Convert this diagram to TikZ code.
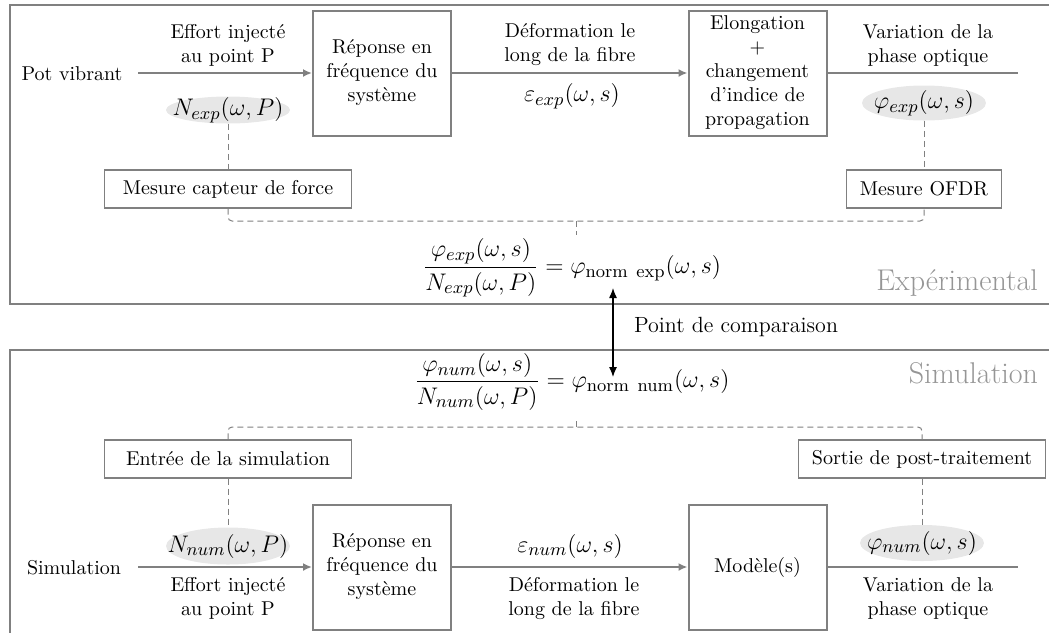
\documentclass[tikz,border=0pt]{standalone}
\usepackage{amsmath,amssymb}
\usepackage{xcolor}
\definecolor{framegray}{RGB}{128,128,128}
\definecolor{ovalfill}{RGB}{231,231,231}
\definecolor{titlegray}{RGB}{150,150,150}
\usepackage{tikz}
\usetikzlibrary{positioning,arrows.meta,shapes.geometric}

\begin{document}
\begin{tikzpicture}[x=0.5pt,y=-0.5pt,
      block/.style={rectangle,draw=framegray,line width=1pt,minimum width=69pt,minimum height=62.5pt,align=center,inner sep=2pt,font=\fontsize{10}{12}\selectfont},
      meas/.style={rectangle,draw=framegray,line width=0.6pt,minimum height=19pt,inner sep=3pt,font=\fontsize{10}{12}\selectfont},
      oval/.style={ellipse,fill=ovalfill,inner sep=0pt,minimum width=62pt},
      lbl/.style={align=center,font=\fontsize{10}{12}\selectfont},
      eq/.style={font=\fontsize{13}{15}\selectfont},
      flow/.style={-{Latex[length=4.5pt,width=4pt]},draw=framegray,line width=0.9pt},
      flowend/.style={draw=framegray,line width=0.9pt},
      link/.style={draw=framegray,line width=0.5pt,dash pattern=on 3pt off 2pt,rounded corners=2pt},
      zone/.style={draw=framegray,line width=0.7pt},
      zonetitle/.style={text=titlegray,font=\fontsize{15}{18}\selectfont}]
    \useasboundingbox (0,0) rectangle (1049,633);
    % frames
    \draw[zone] (1049,5) -- (10,5) -- (10,304) -- (1049,304);
    \draw[zone] (1049,350) -- (10,350) -- (10,633);
    % experimental chain
    \node[lbl] (pot) at (72,74) {Pot vibrant};
    \coordinate (potout) at (138,73);
    \node[block] (repexp) at (382,73) {Réponse en\\fréquence du\\système};
    \node[block] (elong) at (757.5,73) {Elongation\\+\\changement\\d'indice de\\propagation};
    \coordinate (phaseexp) at (1018,73);
    \draw[flow] (potout) -- (repexp.west);
    \draw[flow] (repexp.east) -- (elong.west);
    \draw[flowend] (elong.east) -- (phaseexp);
    \node[lbl] (effexp) at (228,45) {Effort injecté\\au point P};
    \node[lbl] (defexp) at (570,45) {Déformation le\\long de la fibre};
    \node[lbl] (varexp) at (928,45) {Variation de la\\phase optique};
    \node[eq] (epsexp) at (572,96) {$\varepsilon_{exp}(\omega,s)$};
    \node[oval,minimum height=13.5pt,label={[eq]center:$N_{exp}(\omega,P)$}] (nexp) at (228,110) {};
    \node[oval,minimum height=17.5pt,label={[eq]center:$\varphi_{exp}(\omega,s)$}] (phiexp) at (924,103) {};
    % measurements
    \node[meas,minimum width=123.5pt] (capteur) at (228,189) {Mesure capteur de force};
    \node[meas,minimum width=77.5pt] (ofdr) at (924,189) {Mesure OFDR};
    \draw[link] (nexp) -- (capteur);
    \draw[link] (phiexp) -- (ofdr);
    \coordinate (bexp) at (576,221);
    \coordinate (bexptip) at (576,235);
    \draw[link] (capteur.south) |- (bexp) -| (ofdr.south);
    \draw[link] (bexp) -- (bexptip);
    \node[eq] (formexp) at (572,268) {$\dfrac{\varphi_{exp}(\omega,s)}{N_{exp}(\omega,P)} = \varphi_{\mathrm{norm\ exp}}(\omega,s)$};
    \node[zonetitle,anchor=base east] (texp) at (1045,290) {Expérimental};
    % comparison
    \coordinate (cmptop) at (613,288);
    \coordinate (cmpbot) at (613,377);
    \draw[{Latex[length=5pt,width=4pt]}-{Latex[length=5pt,width=4pt]},line width=0.6pt] (cmptop) -- (cmpbot);
    \node[anchor=west,font=\fontsize{11}{13}\selectfont] (cmp) at (627,327) {Point de comparaison};
    % simulation chain
    \node[eq] (formnum) at (572,382) {$\dfrac{\varphi_{num}(\omega,s)}{N_{num}(\omega,P)} = \varphi_{\mathrm{norm\ num}}(\omega,s)$};
    \node[zonetitle,anchor=base east] (tnum) at (1045,383) {Simulation};
    \node[meas,minimum width=123.5pt] (entree) at (228,459) {Entrée de la simulation};
    \node[meas,minimum width=123.5pt] (sortie) at (922,459) {Sortie de post-traitement};
    \coordinate (bnum) at (576,427);
    \coordinate (bnumtip) at (576,418);
    \draw[link] (entree.north) |- (bnum) -| (sortie.north);
    \draw[link] (bnum) -- (bnumtip);
    \node[oval,minimum height=18.5pt,label={[eq]center:$N_{num}(\omega,P)$}] (nnum) at (228,546) {};
    \node[oval,minimum height=18pt,label={[eq]center:$\varphi_{num}(\omega,s)$}] (phinum) at (922,543) {};
    \draw[link] (entree) -- (nnum);
    \draw[link] (sortie) -- (phinum);
    \node[lbl] (sim) at (74,568) {Simulation};
    \coordinate (simout) at (138,567);
    \node[block] (repnum) at (382,567) {Réponse en\\fréquence du\\système};
    \node[block] (modele) at (757.5,567) {Modèle(s)};
    \coordinate (phasenum) at (1018,567);
    \draw[flow] (simout) -- (repnum.west);
    \draw[flow] (repnum.east) -- (modele.west);
    \draw[flowend] (modele.east) -- (phasenum);
    \node[eq] (epsnum) at (570,546) {$\varepsilon_{num}(\omega,s)$};
    \node[lbl] (effnum) at (228,598) {Effort injecté\\au point P};
    \node[lbl] (defnum) at (574,598) {Déformation le\\long de la fibre};
    \node[lbl] (varnum) at (928,598) {Variation de la\\phase optique};
  \end{tikzpicture}
\end{document}
